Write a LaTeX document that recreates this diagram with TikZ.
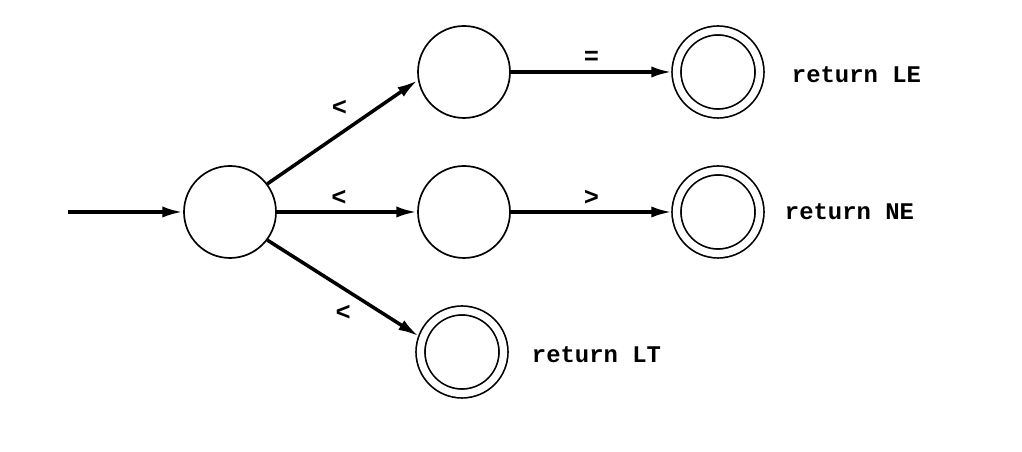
\documentclass[tikz,border=0pt]{standalone}
\usepackage{fontspec}
\setmonofont{Liberation Mono}
\usetikzlibrary{arrows.meta}

\tikzset{
	state/.style={circle, draw, line width=1.2pt, minimum size=2.3cm, inner sep=0pt},
	accepting/.style={circle, draw, line width=1.2pt, double, double distance=0.18cm, minimum size=2.075cm, inner sep=0pt, outer sep=0.11cm},
	trans/.style={-{Latex[length=0.52cm, width=0.28cm]}, line width=2.5pt},
	sym/.style={font=\ttfamily\bfseries\fontsize{18}{20}\selectfont},
	action/.style={font=\ttfamily\bfseries\fontsize{17}{20}\selectfont, anchor=west}
}

\begin{document}
\begin{tikzpicture}
		\useasboundingbox (0, 0) rectangle (25.55, 11.3);
		
		% start state
		\coordinate (in) at (1.7, 6.0);
		\node[state] (q0) at (5.75, 6.0) {};
		\draw[trans] (in) -- (q0);
		
		% states after <
		\node[state] (q1) at (11.6, 9.5) {};
		\node[state] (q2) at (11.6, 6.0) {};
		\node[accepting] (q3) at (11.55, 2.5) {};
		\draw[trans] (q0.37) -- node[sym, midway, yshift=0.6cm, xshift=-0.08cm] {<} (q1.190);
		\draw[trans] (q0) -- node[sym, midway, yshift=0.35cm, xshift=-0.2cm] {<} (q2);
		\draw[trans] (q0.-37) -- node[sym, midway, yshift=-0.62cm] {<} (q3.160);
		\node[action] (lt) at (13.175, 2.43) {return LT};
		
		% final states
		\node[accepting] (q4) at (17.95, 9.5) {};
		\node[accepting] (q5) at (17.95, 6.0) {};
		\draw[trans] (q1) -- node[sym, midway, yshift=0.35cm] {=} (q4);
		\draw[trans] (q2) -- node[sym, midway, yshift=0.35cm] {>} (q5);
		\node[action] (le) at (19.675, 9.43) {return LE};
		\node[action] (ne) at (19.5, 6.0) {return NE};
		
	\end{tikzpicture}
\end{document}
